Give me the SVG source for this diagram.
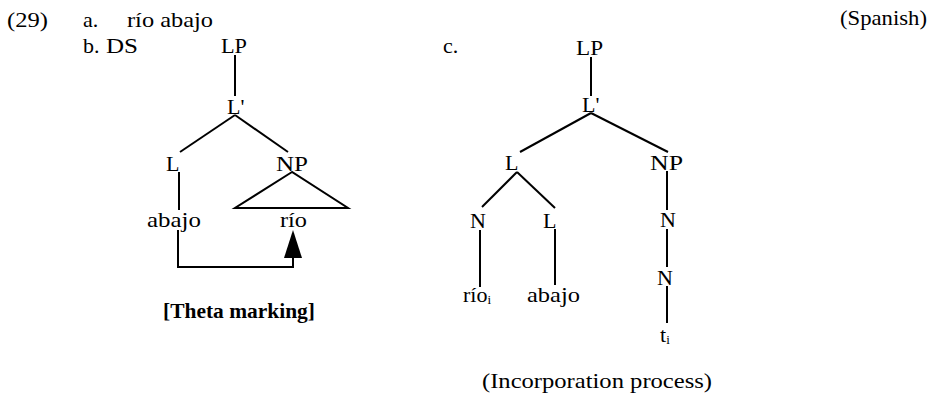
<svg xmlns="http://www.w3.org/2000/svg" width="941" height="405" viewBox="0 0 941 405">
<style>
text{font-family:"Liberation Serif","Times New Roman",serif;font-size:22px;fill:#000}
.b{font-weight:bold}
line,polyline,polygon.tri{stroke:#000;stroke-width:2;fill:none}
.sub{font-size:13px}
</style>
<rect width="941" height="405" fill="#fff"/>
<g id="labels">
<text x="7" y="27" textLength="41" lengthAdjust="spacingAndGlyphs">(29)</text>
<text x="83" y="27">a.</text>
<text x="127" y="27" textLength="86" lengthAdjust="spacingAndGlyphs">río abajo</text>
<text x="83" y="53">b.</text>
<text x="106" y="53" textLength="32" lengthAdjust="spacingAndGlyphs">DS</text>
<text x="443" y="53">c.</text>
<text x="840" y="25" textLength="87" lengthAdjust="spacingAndGlyphs">(Spanish)</text>
<text class="b" x="163" y="318" textLength="152" lengthAdjust="spacingAndGlyphs">[Theta marking]</text>
<text x="482" y="388" textLength="230" lengthAdjust="spacingAndGlyphs">(Incorporation process)</text>
</g>
<g id="connectors">
<line x1="235" y1="55" x2="235" y2="96"/>
<line x1="235" y1="115" x2="180" y2="152"/>
<line x1="235" y1="115" x2="288" y2="152"/>
<line x1="179" y1="172" x2="179" y2="210"/>
<polygon class="tri" points="292,172 235,208 348,208"/>
<polyline points="178,230 178,267 293,267 293,254"/>
<polygon points="293,230 284,258 302,258" fill="#000"/>
<line x1="591" y1="57" x2="591" y2="96"/>
<line x1="591" y1="113" x2="520" y2="152"/>
<line x1="591" y1="113" x2="668" y2="152"/>
<line x1="517" y1="172" x2="482" y2="207"/>
<line x1="517" y1="172" x2="555" y2="208"/>
<line x1="480" y1="230" x2="480" y2="287"/>
<line x1="555" y1="229" x2="555" y2="285"/>
<line x1="667" y1="171" x2="667" y2="210"/>
<line x1="667" y1="229" x2="667" y2="267"/>
<line x1="667" y1="286" x2="667" y2="323"/>
</g>
<g id="n-lp-b"><text x="221" y="53" textLength="26" lengthAdjust="spacingAndGlyphs">LP</text></g>
<g id="n-lbar-b"><text x="227" y="114">L'</text></g>
<g id="n-l-b"><text x="166" y="171">L</text></g>
<g id="n-np-b"><text x="276" y="171" textLength="32" lengthAdjust="spacingAndGlyphs">NP</text></g>
<g id="n-abajo-b"><text x="147" y="227" textLength="54" lengthAdjust="spacingAndGlyphs">abajo</text></g>
<g id="n-rio-b"><text x="280" y="227" textLength="27" lengthAdjust="spacingAndGlyphs">río</text></g>
<g id="n-lp-c"><text x="576" y="55" textLength="27" lengthAdjust="spacingAndGlyphs">LP</text></g>
<g id="n-lbar-c"><text x="582" y="112">L'</text></g>
<g id="n-l-c"><text x="505" y="170">L</text></g>
<g id="n-np-c"><text x="650" y="170" textLength="33" lengthAdjust="spacingAndGlyphs">NP</text></g>
<g id="n-n1-c"><text x="470" y="228">N</text></g>
<g id="n-l2-c"><text x="543" y="228">L</text></g>
<g id="n-n2-c"><text x="660" y="227">N</text></g>
<g id="n-n3-c"><text x="657" y="285">N</text></g>
<g id="n-rio-c"><text x="463" y="302">río<tspan class="sub" dy="2">i</tspan></text></g>
<g id="n-abajo-c"><text x="527" y="302" textLength="53" lengthAdjust="spacingAndGlyphs">abajo</text></g>
<g id="n-t-c"><text x="660" y="342">t<tspan class="sub" dy="2">i</tspan></text></g>
</svg>
